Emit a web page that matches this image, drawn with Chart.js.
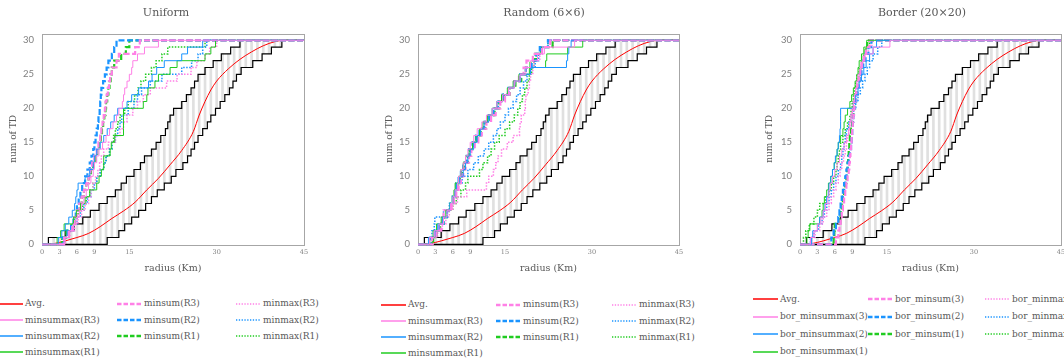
<!DOCTYPE html>
<html>
<head>
<meta charset="utf-8">
<script src="https://cdn.jsdelivr.net/npm/chart.js@4.4.0/dist/chart.umd.min.js"></script>
<style>
body { margin: 0; width: 1064px; height: 358px; overflow: hidden; background: #fff; position: relative; }
canvas { position: absolute; top: 0; }
.leg { position: absolute; font-family: "DejaVu Serif"; font-size: 9px; color: #595959; white-space: nowrap; line-height: 12px; height: 12px; }
.leg svg { vertical-align: middle; margin-right: 2px; }
</style>
</head>
<body>
<canvas id="c1" width="332" height="285" style="left:0px"></canvas>
<canvas id="c2" width="336" height="285" style="left:376px"></canvas>
<canvas id="c3" width="332" height="285" style="left:756px"></canvas>
<script>
////////////////DATA//////////////////
// every step series = radius (Km) at which num of TD reaches 1, 2, ... 30

const xTicks = [0, 3, 6, 9, 15, 30, 45];
const yTicks = [0, 5, 10, 15, 20, 25, 30];

const panelTitles = ["Uniform", "Random (6×6)", "Border (20×20)"];

const labelsPlain = ["Avg.", "minsummax(R3)", "minsummax(R2)", "minsummax(R1)", "minsum(R3)", "minsum(R2)", "minsum(R1)", "minmax(R3)", "minmax(R2)", "minmax(R1)"];
const labelsBorder = ["Avg.", "bor_minsummax(3)", "bor_minsummax(2)", "bor_minsummax(1)", "bor_minsum(3)", "bor_minsum(2)", "bor_minsum(1)", "bor_minmax(3)", "bor_minmax(2)", "bor_minmax(1)"];

// black bounds and red average (same in all three charts)
const blackUpper = [1.1, 4.0, 5.5, 7.0, 8.3, 9.8, 11.2, 12.6, 13.6, 14.5, 15.8, 16.9, 17.6, 18.8, 19.6, 20.4, 21.2, 21.6, 22.0, 22.6, 24.0, 24.8, 25.6, 26.2, 26.8, 28.0, 29.4, 30.8, 32.4, 34.0];
const blackLower = [11.2, 13.2, 14.2, 15.4, 16.6, 17.8, 18.8, 19.8, 21.0, 22.2, 23.0, 24.2, 25.0, 25.6, 26.2, 26.8, 27.6, 28.4, 29.0, 29.8, 30.6, 31.4, 32.2, 32.8, 33.4, 34.2, 36.2, 37.8, 39.4, 41.2];
const avgR = [0, 2, 4, 6, 8, 10, 12, 14, 16, 18, 20, 22, 24, 26, 27, 28, 29, 30, 32, 34, 36, 38, 40, 41.5, 45];
const avgV = [0, 0.1, 0.5, 1.0, 1.6, 2.6, 3.8, 4.9, 6.2, 8.0, 9.7, 11.7, 13.8, 16.6, 19.0, 21.0, 22.7, 24.0, 25.8, 27.2, 28.3, 29.2, 29.8, 30, 30];

// Uniform
const uSummaxR3 = [3.8, 4.6, 5.4, 6.0, 6.4, 6.8, 7.2, 7.6, 8.0, 8.4, 8.8, 9.0, 9.4, 9.8, 10.4, 11.0, 11.6, 12.2, 12.8, 13.2, 13.8, 14.0, 14.2, 14.6, 15.0, 15.4, 15.6, 16.4, 17.6, 20.0];
const uSummaxR2 = [2.8, 3.4, 4.0, 4.6, 5.2, 5.6, 5.8, 6.0, 6.2, 7.4, 8.2, 8.8, 9.0, 9.4, 10.0, 10.6, 11.2, 11.8, 12.4, 13.0, 14.6, 15.4, 16.6, 18.3, 18.9, 19.7, 21.0, 24.0, 25.0, 27.6];
const uSummaxR1 = [2.6, 3.2, 3.8, 5.4, 5.9, 6.6, 7.4, 8.2, 9.4, 9.8, 10.2, 10.6, 10.6, 11.7, 11.9, 12.5, 14.0, 14.0, 14.0, 14.0, 17.4, 18.0, 18.2, 19.4, 20.0, 22.0, 23.2, 28.0, 29.0, 29.8];
const uMinsumR3 = [3.8, 4.6, 5.2, 5.6, 6.0, 6.4, 6.8, 7.2, 7.6, 8.0, 8.3, 8.6, 9.0, 9.4, 9.7, 10.0, 10.2, 10.4, 10.6, 10.8, 10.9, 11.1, 11.3, 11.5, 11.7, 12.0, 12.8, 13.2, 16.0, 16.8];
const uMinsumR2 = [3.6, 4.4, 5.0, 5.4, 5.8, 6.0, 6.3, 6.6, 6.9, 7.4, 7.8, 8.2, 8.5, 8.8, 9.0, 9.2, 9.4, 9.6, 9.7, 9.9, 10.0, 10.1, 10.2, 10.5, 10.8, 11.1, 11.4, 12.0, 12.4, 12.8];
const uMinsumR1 = [3.4, 4.2, 5.0, 5.6, 6.0, 6.4, 6.8, 7.2, 7.6, 8.0, 8.4, 8.8, 9.2, 9.5, 9.8, 10.1, 10.3, 10.5, 10.7, 10.9, 11.0, 11.2, 11.4, 11.6, 11.8, 12.0, 12.4, 13.6, 14.4, 15.0];
const uMinmaxR3 = [4.0, 4.8, 5.6, 6.2, 6.8, 7.4, 8.0, 8.4, 8.8, 9.2, 9.6, 9.9, 10.2, 10.6, 11.4, 12.6, 13.4, 14.0, 14.6, 15.6, 16.4, 17.4, 18.6, 21.4, 23.2, 25.6, 26.6, 28.0, 28.8, 30.0];
const uMinmaxR2 = [3.8, 4.6, 5.4, 6.0, 6.6, 7.2, 7.8, 8.4, 9.0, 9.4, 10.0, 10.6, 11.0, 11.6, 12.0, 12.6, 13.0, 13.4, 13.7, 14.8, 15.8, 16.4, 17.1, 18.6, 20.6, 24.0, 25.7, 26.8, 27.6, 28.3];
const uMinmaxR1 = [3.4, 4.2, 5.0, 5.6, 6.2, 7.0, 7.6, 8.2, 8.8, 9.4, 10.0, 10.6, 11.0, 11.6, 12.0, 12.3, 12.6, 13.0, 13.4, 14.2, 14.8, 15.9, 16.5, 17.0, 17.8, 18.8, 19.6, 20.6, 21.6, 28.0];

// Random (6x6)
const rSummaxR3 = [2.0, 2.8, 3.6, 4.4, 5.0, 5.6, 6.0, 6.4, 6.8, 7.0, 7.4, 7.8, 8.2, 8.6, 9.0, 9.6, 10.2, 11.0, 11.8, 12.8, 13.6, 14.6, 15.6, 16.6, 17.6, 18.6, 19.4, 20.6, 21.8, 27.0];
const rSummaxR2 = [1.8, 2.8, 3.4, 4.2, 5.0, 5.6, 6.0, 6.4, 6.8, 7.2, 7.8, 8.2, 8.6, 9.0, 9.6, 10.2, 10.8, 11.4, 12.2, 12.8, 13.6, 14.6, 15.6, 16.6, 17.6, 19.4, 25.6, 25.8, 26.0, 26.4];
const rSummaxR1 = [2.0, 2.6, 3.2, 4.0, 4.8, 5.6, 6.0, 6.2, 6.4, 7.0, 7.4, 7.8, 8.2, 8.8, 9.4, 10.0, 10.6, 11.2, 12.0, 12.8, 13.6, 14.4, 15.4, 16.4, 17.4, 19.2, 22.0, 22.2, 25.8, 28.4];
const rMinsumR3 = [2.4, 3.2, 4.0, 4.2, 4.4, 5.8, 6.2, 6.6, 7.0, 7.4, 7.8, 8.2, 8.8, 9.2, 9.8, 10.4, 11.0, 11.8, 12.6, 13.4, 14.2, 15.0, 15.8, 16.6, 17.4, 18.2, 18.7, 19.8, 21.4, 22.8];
const rMinsumR2 = [2.2, 3.0, 3.6, 4.4, 5.0, 5.6, 6.0, 6.4, 6.6, 7.0, 7.4, 7.8, 8.4, 8.8, 9.4, 10.0, 10.6, 11.4, 12.2, 13.0, 13.8, 14.6, 15.6, 16.6, 17.6, 18.6, 19.6, 20.4, 21.0, 22.4];
const rMinsumR1 = [2.6, 3.2, 3.8, 4.4, 5.0, 5.6, 6.0, 6.4, 6.8, 7.2, 7.6, 8.0, 8.6, 9.0, 9.6, 10.2, 10.8, 11.6, 12.4, 13.2, 14.0, 14.8, 15.8, 16.8, 17.8, 18.6, 19.4, 20.2, 21.2, 23.2];
const rMinmaxR3 = [2.6, 3.4, 4.2, 4.8, 5.4, 6.0, 6.8, 8.4, 11.8, 12.2, 13.0, 13.4, 13.8, 14.4, 15.4, 16.4, 17.5, 17.6, 17.8, 18.4, 18.5, 18.6, 19.0, 19.2, 19.4, 19.8, 20.0, 21.0, 21.4, 23.3];
const rMinmaxR2 = [2.0, 2.4, 2.8, 2.9, 4.4, 5.4, 6.0, 6.4, 6.8, 7.6, 8.6, 9.6, 10.4, 11.4, 12.2, 13.0, 13.6, 14.2, 15.0, 15.6, 16.4, 17.0, 17.6, 18.2, 18.8, 19.4, 20.2, 20.8, 21.4, 22.4];
const rMinmaxR1 = [2.4, 3.0, 3.6, 4.2, 5.0, 6.0, 6.6, 7.4, 8.2, 8.6, 10.6, 11.2, 12.0, 12.6, 13.2, 14.0, 15.0, 15.8, 16.6, 17.2, 17.6, 18.0, 18.4, 18.8, 19.2, 19.6, 20.0, 20.4, 21.4, 22.4];

// Border (20x20)
const bSummaxR3 = [1.8, 2.4, 3.0, 3.6, 4.0, 4.4, 4.8, 5.0, 5.2, 5.6, 6.0, 6.4, 6.8, 7.2, 7.6, 8.0, 8.4, 8.6, 8.8, 9.0, 9.2, 9.4, 9.6, 9.8, 10.0, 10.4, 10.8, 11.2, 12.6, 15.5];
const bSummaxR2 = [2.0, 2.2, 3.0, 3.4, 4.0, 4.3, 4.6, 4.9, 5.0, 5.3, 5.6, 5.9, 6.1, 6.4, 6.6, 6.8, 6.9, 7.0, 7.0, 7.0, 9.2, 9.6, 10.0, 10.2, 10.6, 11.0, 11.4, 12.0, 12.6, 13.2];
const bSummaxR1 = [1.2, 1.4, 1.7, 3.4, 3.8, 4.0, 4.2, 4.6, 4.9, 5.3, 5.6, 5.9, 6.2, 6.4, 6.6, 7.0, 7.4, 7.6, 7.8, 8.2, 8.6, 8.9, 9.2, 9.5, 9.8, 10.0, 10.2, 10.6, 11.0, 11.5];
const bMinsumR3 = [6.2, 6.6, 6.8, 7.0, 7.2, 7.4, 7.6, 7.8, 8.0, 8.2, 8.4, 8.5, 8.6, 8.7, 8.8, 8.9, 9.0, 9.1, 9.2, 9.3, 9.4, 9.6, 9.8, 10.0, 10.2, 10.4, 10.6, 11.0, 11.4, 12.0];
const bMinsumR2 = [5.4, 5.8, 6.2, 6.6, 6.8, 7.0, 7.2, 7.4, 7.6, 7.8, 8.0, 8.2, 8.4, 8.6, 8.8, 8.9, 9.0, 9.1, 9.2, 9.3, 9.5, 9.7, 9.9, 10.1, 10.3, 10.6, 10.9, 11.3, 11.8, 12.3];
const bMinsumR1 = [5.8, 5.9, 6.0, 6.8, 7.0, 7.2, 7.4, 7.6, 7.8, 8.0, 8.1, 8.2, 8.3, 8.4, 8.5, 8.6, 8.8, 9.0, 9.1, 9.2, 9.4, 9.6, 9.8, 10.0, 10.2, 10.4, 10.7, 11.0, 11.3, 11.6];
const bMinmaxR3 = [2.0, 2.6, 3.4, 4.0, 4.6, 5.0, 5.4, 5.8, 6.2, 6.6, 6.9, 7.2, 7.5, 7.8, 8.0, 8.2, 8.4, 8.6, 8.8, 9.0, 9.2, 9.4, 9.6, 9.8, 10.0, 10.4, 10.8, 11.2, 11.8, 12.4];
const bMinmaxR2 = [1.8, 2.4, 3.2, 3.8, 4.2, 4.6, 5.0, 5.4, 5.8, 6.2, 6.6, 7.0, 7.2, 7.4, 7.6, 7.8, 8.0, 8.4, 8.8, 9.2, 9.6, 10.0, 10.4, 10.8, 11.2, 11.6, 12.0, 12.6, 13.4, 14.1];
const bMinmaxR1 = [0.6, 1.0, 1.6, 2.4, 3.0, 3.4, 4.4, 5.0, 5.4, 5.8, 6.2, 6.4, 6.6, 6.8, 7.0, 7.4, 7.8, 8.2, 8.6, 8.8, 9.0, 9.2, 9.4, 9.6, 9.8, 10.2, 10.6, 11.0, 11.4, 12.0];

////////////////STYLES//////////////////

const pink = "#ff80e6";
const blue = "#1a94ff";
const green = "#20cc20";
const textGray = "#595959";
const tickGray = "#7f7f7f";

// R3, R2, R1 for each kind
const seriesColors = [pink, blue, green, pink, blue, green, pink, blue, green];
const seriesWidth = [1, 1, 1, 2.2, 2.2, 2.2, 1.5, 1.5, 1.5];
const seriesDash = [[], [], [], [6, 2.5], [6, 2.5], [6, 2.5], [1.5, 1.5], [1.5, 1.5], [1.5, 1.5]];

////////////////HELPERS//////////////////

function steps(arr) {
    var pts = [{ x: 0, y: 0 }];
    for (var i = 0; i < arr.length; i++) {
        pts.push({ x: arr[i], y: i + 1 });
    }
    pts.push({ x: 45, y: 30 });
    return pts;
}

function countAt(arr, r) {
    var n = 0;
    for (var i = 0; i < arr.length; i++) {
        if (arr[i] <= r) n++;
    }
    return n;
}

// gray lines between the two black curves, one per km
function hatch() {
    var out = [];
    for (var r = 1; r < 45; r++) {
        var lo = countAt(blackLower, r);
        var hi = countAt(blackUpper, r);
        if (hi > lo) out.push({ x: r, y: [lo, hi] });
    }
    return out;
}

var frame = {
    id: "frame",
    beforeDatasetsDraw: function (chart) {
        var a = chart.chartArea;
        var c = chart.ctx;
        c.save();
        c.strokeStyle = "#a6a6a6";
        c.lineWidth = 1;
        c.strokeRect(Math.round(a.left) + 0.5, Math.round(a.top) + 0.5, Math.round(a.right - a.left), Math.round(a.bottom - a.top));
        c.restore();
    }
};

////////////////DRAW//////////////////

function drawPanel(id, title, series, yWidth, rightPad) {
    var sets = [];
    for (var i = 0; i < series.length; i++) {
        sets.push({
            data: steps(series[i]),
            borderColor: seriesColors[i],
            borderWidth: seriesWidth[i],
            borderDash: seriesDash[i],
            stepped: true,
            pointRadius: 0,
            fill: false,
            order: 1
        });
    }
    var avg = [];
    for (var j = 0; j < avgR.length; j++) avg.push({ x: avgR[j], y: avgV[j] });
    sets.push({ data: avg, borderColor: "#ff0000", borderWidth: 1, cubicInterpolationMode: "monotone", pointRadius: 0, fill: false, order: 2 });
    sets.push({ data: steps(blackUpper), borderColor: "#000", borderWidth: 1.2, stepped: true, pointRadius: 0, fill: false, order: 3 });
    sets.push({ data: steps(blackLower), borderColor: "#000", borderWidth: 1.2, stepped: true, pointRadius: 0, fill: false, order: 3 });
    sets.push({ type: "bar", data: hatch(), backgroundColor: "#e0e0e0", borderWidth: 0, barThickness: 2, grouped: false, order: 4 });

    new Chart(document.getElementById(id), {
        type: "line",
        data: { datasets: sets },
        plugins: [frame],
        options: {
            animation: false,
            responsive: false,
            devicePixelRatio: 1,
            clip: false,
            layout: { padding: 0 },
            plugins: {
                legend: { display: false },
                tooltip: { enabled: false },
                title: {
                    display: true,
                    text: title,
                    color: textGray,
                    font: { family: "DejaVu Serif", size: 11, weight: "normal" },
                    padding: { top: 7, bottom: 13.3 }
                }
            },
            scales: {
                x: {
                    type: "linear",
                    min: 0,
                    max: 45,
                    offset: false,
                    grid: { display: false, drawTicks: false },
                    border: { display: false },
                    afterBuildTicks: function (s) { s.ticks = xTicks.map(function (v) { return { value: v }; }); },
                    afterFit: function (s) { s.height = 285 - 244.3; s.paddingRight = rightPad; },
                    ticks: { font: { family: "DejaVu Serif", size: 6.5 }, color: tickGray, padding: 4, maxRotation: 0, autoSkip: false },
                    title: { display: true, text: "radius (Km)", color: textGray, font: { family: "DejaVu Serif", size: 9.5 }, padding: { top: 0, bottom: 11 } }
                },
                y: {
                    min: 0,
                    max: 31,
                    grid: { display: false, drawTicks: false },
                    border: { display: false },
                    afterBuildTicks: function (s) { s.ticks = yTicks.map(function (v) { return { value: v }; }); },
                    afterFit: function (s) { s.width = yWidth; },
                    ticks: { font: { family: "Lato", size: 9.5 }, color: tickGray, padding: 8 },
                    title: { display: true, text: "num of TD", color: textGray, font: { family: "DejaVu Serif", size: 9 }, padding: { top: 8.6, bottom: 0 } }
                }
            }
        }
    });
}

////////////////LEGEND//////////////////

function sample(i) {
    var color = "#ff0000", w = 1.5, dash = "";
    if (i > 0) {
        color = seriesColors[i - 1];
        if (i >= 4 && i <= 6) { w = 2.5; dash = "4.5 2"; }
        if (i >= 7) { w = 1.5; dash = "1.3 1.5"; }
    }
    return '<svg width="25" height="6"><line x1="0" y1="3" x2="25" y2="3" stroke="' + color + '" stroke-width="' + w + '"' +
        (dash ? ' stroke-dasharray="' + dash + '"' : '') + '/></svg>';
}

function addLegend(labels, colX, rowY) {
    for (var i = 0; i < labels.length; i++) {
        var col = i < 4 ? 0 : (i < 7 ? 1 : 2);
        var row = i < 4 ? i : (i < 7 ? i - 4 : i - 7);
        var d = document.createElement("div");
        d.className = "leg";
        d.style.left = colX[col] + "px";
        d.style.top = (rowY[row] - 6) + "px";
        d.innerHTML = sample(i) + "<span>" + labels[i] + "</span>";
        document.body.appendChild(d);
    }
}

drawPanel("c1", panelTitles[0], [uSummaxR3, uSummaxR2, uSummaxR1, uMinsumR3, uMinsumR2, uMinsumR1, uMinmaxR3, uMinmaxR2, uMinmaxR1], 42, 28);
drawPanel("c2", panelTitles[1], [rSummaxR3, rSummaxR2, rSummaxR1, rMinsumR3, rMinsumR2, rMinsumR1, rMinmaxR3, rMinmaxR2, rMinmaxR1], 42, 33);
drawPanel("c3", panelTitles[2], [bSummaxR3, bSummaxR2, bSummaxR1, bMinsumR3, bMinsumR2, bMinsumR1, bMinmaxR3, bMinmaxR2, bMinmaxR1], 44, 27);

addLegend(labelsPlain, [-2, 117, 236], [303, 319.5, 335.5, 351.5]);
addLegend(labelsPlain, [381, 496, 612], [304, 320.5, 336.5, 352.5]);
addLegend(labelsBorder, [753, 868, 985], [298.5, 316, 333.5, 351]);
</script>
</body>
</html>
